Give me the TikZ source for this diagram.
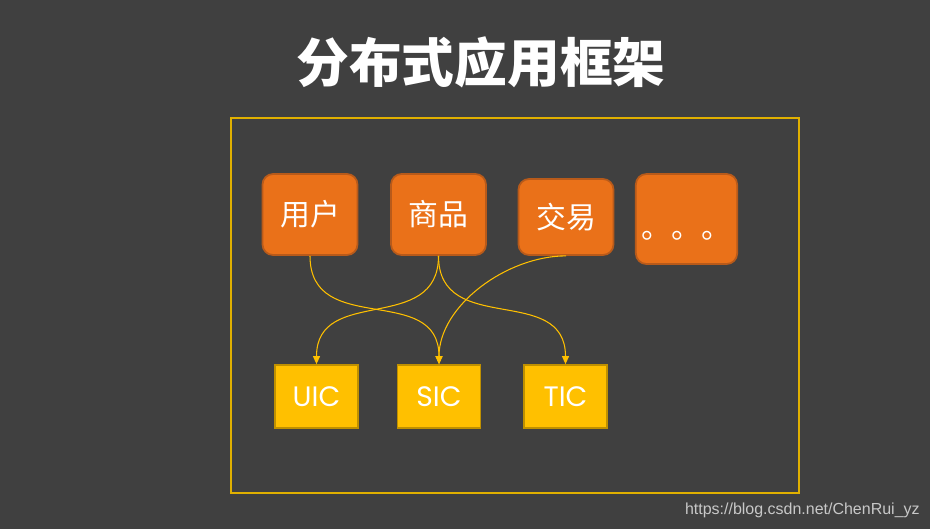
\documentclass[tikz,border=0pt]{standalone}
\usepackage{fontspec}
\usepackage{tikz}
\usetikzlibrary{arrows.meta,positioning}
\newfontfamily\cjk{Noto Sans CJK SC}
\newfontfamily\geo{Poppins}
\newfontfamily\urlfont{Liberation Sans}
\definecolor{bg}{HTML}{404040}
\definecolor{orangefill}{HTML}{EA7119}
\definecolor{orangeline}{HTML}{B85A1A}
\definecolor{goldfill}{HTML}{FFC000}
\definecolor{goldline}{HTML}{BF9000}
\definecolor{frameline}{HTML}{E0B000}
\definecolor{wmark}{HTML}{C8C8C8}
\tikzset{
  appbox/.style={draw=orangeline,fill=orangefill,line width=1pt,rounded corners=6pt,
    minimum width=1.9cm,text=white,font=\cjk\fontsize{17}{20}\selectfont},
  centerbox/.style={draw=goldline,fill=goldfill,line width=1pt,minimum width=1.66cm,
    minimum height=1.26cm,text=white,font=\geo\fontsize{16}{19}\selectfont},
  callarrow/.style={-{Triangle[length=1.6mm,width=1.4mm]},draw=goldfill,line width=0.6pt}
}
\begin{document}
\begin{tikzpicture}[x=0.02cm,y=-0.02cm]
  \fill[bg] (0,0) rectangle (930,529);
  \useasboundingbox (0,0) rectangle (930,529);
  \node[text=white,font=\cjk\bfseries\fontsize{30}{34}\selectfont] (title) at (481,62) {分布式应用框架};
  \draw[frameline,line width=0.6pt] (231,118) rectangle (799,493);
  % business modules
  \node[appbox,minimum height=1.62cm] (user) at (310,214.5) {用户};
  \node[appbox,minimum height=1.62cm] (item) at (438.5,214.5) {商品};
  \node[appbox,minimum height=1.52cm] (trade) at (566,217) {交易};
  \node[appbox,minimum height=1.80cm,text depth=0pt] (more) at (686.5,219) {\raisebox{-1.2ex}{。。。}};
  % service centers
  \node[centerbox] (uic) at (316.5,396.5) {UIC};
  \node[centerbox] (sic) at (439,396.5) {SIC};
  \node[centerbox] (tic) at (565.5,396.5) {TIC};
  \draw[callarrow] (user.south) to[out=-90,in=90,looseness=1.25] (sic.north);
  \draw[callarrow] (item.south) to[out=-90,in=90,looseness=1.25] (uic.north);
  \draw[callarrow] (item.south) to[out=-90,in=90,looseness=1.25] (tic.north);
  \draw[callarrow] (trade.south) to[out=180,in=90,looseness=0.9] (sic.north);
  \node[anchor=east,inner sep=0pt,text=wmark,font=\urlfont\fontsize{9.1}{11}\selectfont] (url) at (920,510) {https://blog.csdn.net/ChenRui\_yz};
\end{tikzpicture}
\end{document}
